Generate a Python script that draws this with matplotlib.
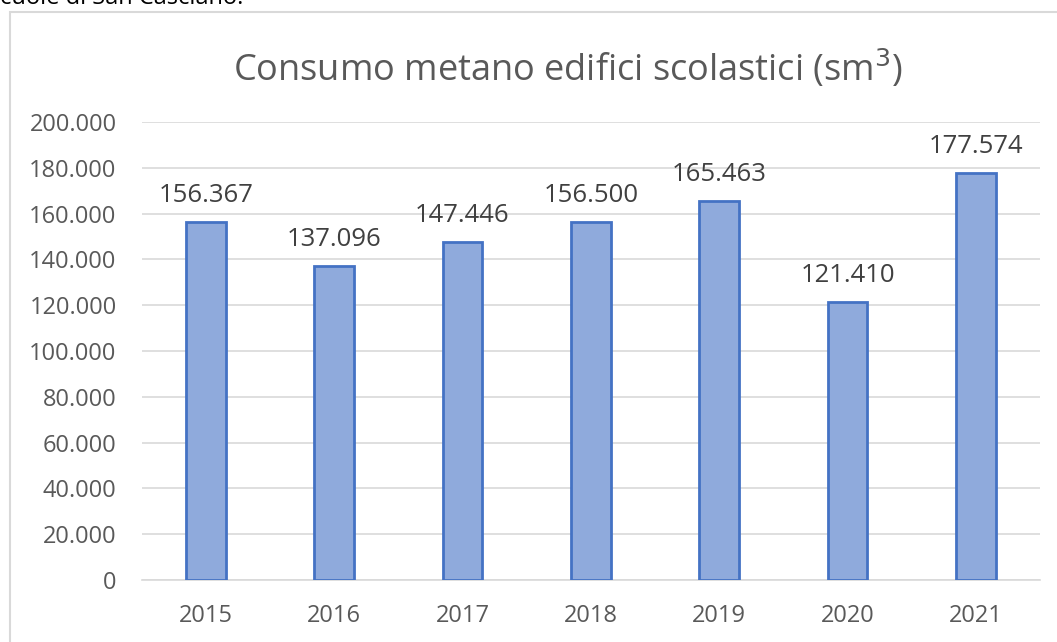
import matplotlib.pyplot as plt
import matplotlib.patches as patches
import numpy as np

anni = ['2015', '2016', '2017', '2018', '2019', '2020', '2021']
consumi = [156367, 137096, 147446, 156500, 165463, 121410, 177574]
yticks = [0, 20000, 40000, 60000, 80000, 100000, 120000, 140000, 160000, 180000, 200000]

def fmt(v):
    # separatore migliaia all'italiana
    return '{:,}'.format(int(v)).replace(',', '.')

plt.rcParams['font.family'] = ['Open Sans', 'DejaVu Sans']

fig = plt.figure(figsize=(10.57, 6.42), dpi=100)
ax = fig.add_axes([0.134, 0.0966, 0.850, 0.7134])

x = np.arange(len(anni))
bars = ax.bar(x, consumi, width=0.31, color='#8FAADC', edgecolor='#4472C4', linewidth=2, zorder=3)

# etichette sopra le barre
for bar, v in zip(bars, consumi):
    ax.annotate(fmt(v), (bar.get_x() + bar.get_width() / 2, bar.get_height()),
                xytext=(0, 10), textcoords='offset points', ha='center', va='bottom',
                fontsize=18.5, color='#404040')

ax.set_xlim(-0.5, len(anni) - 0.5)
ax.set_ylim(0, 200000)
ax.set_yticks(yticks)
ax.set_yticklabels([fmt(t) for t in yticks])
ax.set_xticks(x)
ax.set_xticklabels(anni)
ax.tick_params(axis='both', length=0, labelsize=17, colors='#595959')
ax.tick_params(axis='x', pad=17)
ax.tick_params(axis='y', pad=18)
ax.grid(axis='y', color='#D9D9D9', linewidth=1.2, zorder=0)
for s in ['top', 'right', 'left']:
    ax.spines[s].set_visible(False)
ax.spines['bottom'].set_color('#D9D9D9')
ax.spines['bottom'].set_linewidth(1.2)

fig.text(0.537, 0.893, 'Consumo metano edifici scolastici (sm$^3$)', ha='center', va='center',
         fontsize=26, color='#595959')

# cornice del grafico
fig.patches.append(patches.Rectangle((10 / 1057, -0.05), 1.1, 1 - 12 / 642 + 0.05,
                                     transform=fig.transFigure, fill=False,
                                     edgecolor='#D9D9D9', linewidth=1.5))

# testo tagliato in alto
fig.text(0.0, 0.993, 'cuole di San Casciano.', ha='left', va='baseline', fontsize=17, color='black')

plt.savefig('out.png', dpi=100)
